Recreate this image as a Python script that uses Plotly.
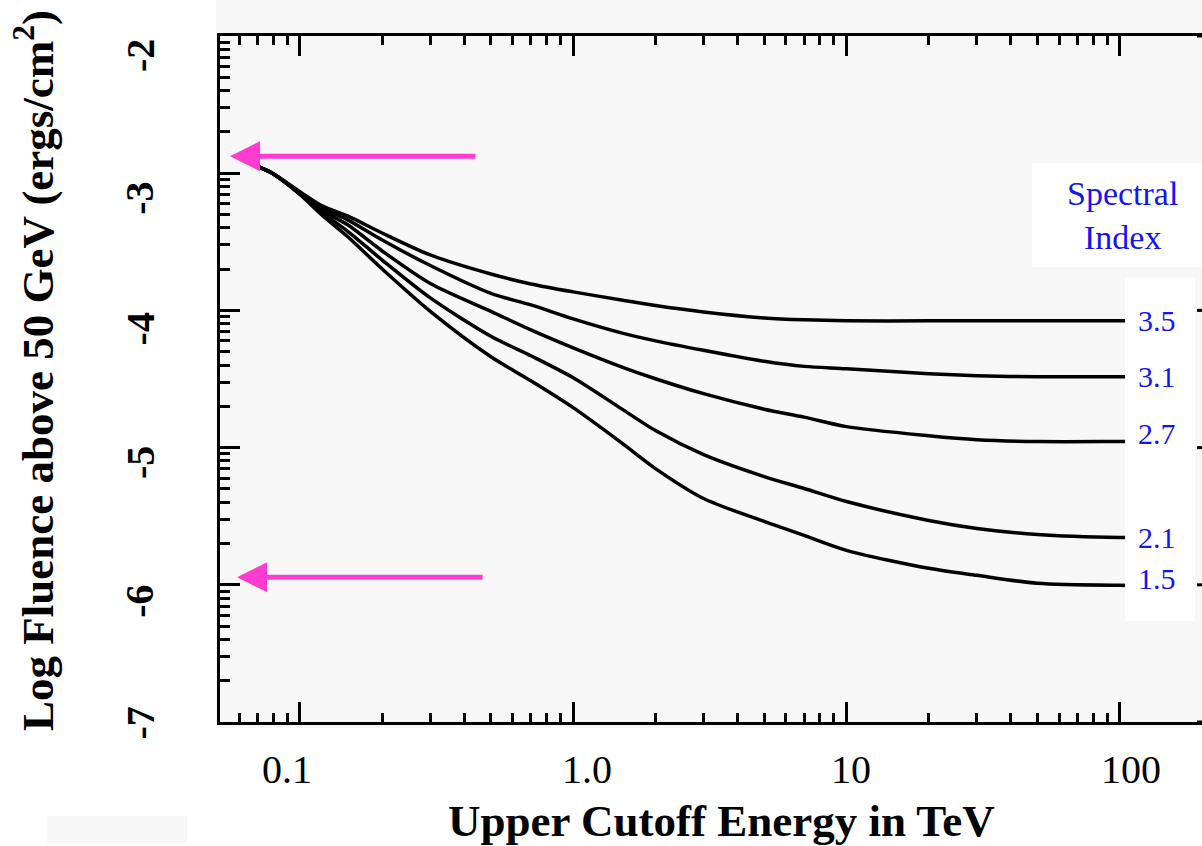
import numpy as np
import plotly.graph_objects as go

# ---- data -------------------------------------------------------------
energy_tev = [0.071, 0.08, 0.1, 0.12, 0.15, 0.2, 0.3, 0.5, 0.7, 1.0, 1.5, 2.0,
              3.0, 5.0, 7.0, 10.0, 20.0, 30.0, 50.0, 100.0, 120.0]

log_fluence_35 = [-2.956, -3.005, -3.135, -3.236, -3.313, -3.436, -3.596, -3.735,
                  -3.807, -3.865, -3.924, -3.964, -4.011, -4.055, -4.069, -4.076,
                  -4.076, -4.076, -4.076, -4.076, -4.076]
log_fluence_31 = [-2.956, -3.005, -3.140, -3.251, -3.342, -3.487, -3.673, -3.876,
                  -3.960, -4.062, -4.164, -4.222, -4.291, -4.371, -4.408, -4.425,
                  -4.462, -4.476, -4.484, -4.484, -4.484]
log_fluence_27 = [-2.956, -3.005, -3.145, -3.269, -3.378, -3.567, -3.804, -4.007,
                  -4.142, -4.273, -4.411, -4.498, -4.607, -4.720, -4.778, -4.847,
                  -4.913, -4.942, -4.956, -4.956, -4.956]
log_fluence_21 = [-2.956, -3.005, -3.150, -3.284, -3.425, -3.633, -3.909, -4.189,
                  -4.331, -4.491, -4.716, -4.876, -5.051, -5.211, -5.298, -5.393,
                  -5.531, -5.589, -5.633, -5.655, -5.655]
log_fluence_15 = [-2.956, -3.005, -3.155, -3.302, -3.465, -3.698, -4.007, -4.338,
                  -4.513, -4.709, -4.964, -5.153, -5.371, -5.538, -5.640, -5.749,
                  -5.880, -5.931, -5.989, -6.004, -6.004]

spectral_indices = ["3.5", "3.1", "2.7", "2.1", "1.5"]
curves = [log_fluence_35, log_fluence_31, log_fluence_27, log_fluence_21, log_fluence_15]

x_major = [0.1, 1.0, 10.0, 100.0]
x_major_text = ["0.1", "1.0", "10", "100"]
y_major = [-2, -3, -4, -5, -6, -7]
y_major_text = ["-2", "-3", "-4", "-5", "-6", "-7"]

# arrows marking the fluence levels (tip energy in TeV, log fluence)
arrow_tips = [(0.0555, -2.876), (0.0589, -5.945)]

# ---- page geometry ----------------------------------------------------
W, H = 1202, 846
ML, MR, MT, MB = 220, 0, 36, 124
PW, PH = W - ML - MR, H - MT - MB


def px_x(p):
    return (p - ML) / PW


def px_y(p):
    return (H - MB - p) / PH


SERIF = "Liberation Serif"
BLUE = "#1414ee"
PINK = "#ff3ccf"
BG = "#f7f7f7"

fig = go.Figure()

for vals in curves:
    fig.add_trace(go.Scatter(
        x=energy_tev, y=vals, mode="lines",
        line=dict(color="black", width=3.5, shape="spline", smoothing=0.8),
        showlegend=False, hoverinfo="skip",
    ))

x_minor = [k * 10.0 ** d for d in range(-2, 3) for k in range(2, 10)]
x_minor = [v for v in x_minor if 0.051 <= v <= 200]
y_minor = [d + np.log10(k) for d in range(-7, -2) for k in range(2, 10)]

fig.update_xaxes(
    type="log", range=[np.log10(0.051), np.log10(200)],
    showline=True, linewidth=3, linecolor="black", mirror="allticks",
    ticks="inside", ticklen=20, tickwidth=3, tickcolor="black",
    tickmode="array", tickvals=x_major, showticklabels=False,
    showgrid=False, zeroline=False,
    minor=dict(tickmode="array", tickvals=x_minor, ticks="inside",
               ticklen=9, tickwidth=3, tickcolor="black", showgrid=False),
)
fig.update_yaxes(
    range=[-7, -2],
    showline=True, linewidth=3, linecolor="black",
    ticks="inside", ticklen=20, tickwidth=3, tickcolor="black",
    tickmode="array", tickvals=y_major, showticklabels=False,
    showgrid=False, zeroline=False,
    minor=dict(tickmode="array", tickvals=y_minor, ticks="inside",
               ticklen=10, tickwidth=3, tickcolor="black", showgrid=False),
)

shapes = [
    # grey panel reaching above the frame
    dict(type="rect", xref="paper", yref="paper", x0=px_x(216), x1=1.0,
         y0=px_y(728), y1=px_y(0), fillcolor=BG, line=dict(width=0), layer="below"),
    dict(type="rect", xref="paper", yref="paper", x0=px_x(47), x1=px_x(187),
         y0=px_y(843), y1=px_y(816), fillcolor=BG, line=dict(width=0), layer="below"),
]
# short ticks on the right edge
for v in y_major:
    shapes.append(dict(type="line", xref="paper", yref="y", x0=px_x(1197), x1=1.0,
                       y0=v, y1=v, line=dict(color="black", width=3)))
# white boxes behind the legend text
shapes.append(dict(type="rect", xref="paper", yref="paper", x0=px_x(1032), x1=1.0,
                   y0=px_y(267), y1=px_y(163), fillcolor="white", line=dict(width=0)))
shapes.append(dict(type="rect", xref="paper", yref="paper", x0=px_x(1125), x1=px_x(1195),
                   y0=px_y(621), y1=px_y(278), fillcolor="white", line=dict(width=0)))

annotations = []

# x tick labels
x_label_shift = [-13, 14, 5, 11]
for v, t, s in zip(x_major, x_major_text, x_label_shift):
    annotations.append(dict(x=np.log10(v), xref="x", y=0, yref="paper",
                            text=t, showarrow=False, xanchor="center", yanchor="top",
                            xshift=s, yshift=-23,
                            font=dict(family=SERIF, size=40, color="black")))

# y tick labels (rotated)
y_label_drop = [20, 25.5, 19, 15.5, 17, 1.5]
for v, t, d in zip(y_major, y_major_text, y_label_drop):
    annotations.append(dict(x=0, xref="paper", y=v, yref="y", text=t,
                            showarrow=False, textangle=-90,
                            xanchor="center", yanchor="middle",
                            xshift=140 - ML, yshift=-d,
                            font=dict(family=SERIF, size=40, color="black", weight="bold")))

# axis titles
annotations.append(dict(x=px_x(721), xref="paper", y=0, yref="paper",
                        text="Upper Cutoff Energy in TeV", showarrow=False,
                        xanchor="center", yanchor="top", yshift=-72,
                        font=dict(family=SERIF, size=45, color="black", weight="bold")))
annotations.append(dict(x=0, xref="paper", y=px_y(371), yref="paper",
                        text="Log Fluence above 50 GeV (ergs/cm<sup>2</sup>)",
                        showarrow=False, textangle=-90,
                        xanchor="center", yanchor="middle", xshift=34 - ML,
                        font=dict(family=SERIF, size=45, color="black", weight="bold")))

# legend heading and curve labels
annotations.append(dict(x=px_x(1122), xref="paper", y=px_y(215), yref="paper",
                        text="Spectral<br>Index", showarrow=False,
                        xanchor="center", yanchor="middle", align="center",
                        font=dict(family=SERIF, size=34, color=BLUE)))
label_lift = [0, 0, 8, 0, 7]
for name, vals, lift in zip(spectral_indices, curves, label_lift):
    annotations.append(dict(x=1, xref="paper", y=vals[-1], yref="y", text=name,
                            showarrow=False, xanchor="center", yanchor="middle",
                            xshift=1157 - W, yshift=lift,
                            font=dict(family=SERIF, size=30, color=BLUE)))

# pink arrows
for e, v in arrow_tips:
    annotations.append(dict(x=np.log10(e), xref="x", y=v, yref="y",
                            ax=247, ay=0, axref="pixel", ayref="pixel",
                            text="", showarrow=True, arrowhead=2, arrowsize=1.2,
                            arrowwidth=5, arrowcolor=PINK, standoff=0))

fig.update_layout(
    width=W, height=H,
    margin=dict(l=ML, r=MR, t=MT, b=MB, pad=0),
    paper_bgcolor="white", plot_bgcolor=BG,
    shapes=shapes, annotations=annotations,
    showlegend=False,
)

fig.write_html("out.html")
